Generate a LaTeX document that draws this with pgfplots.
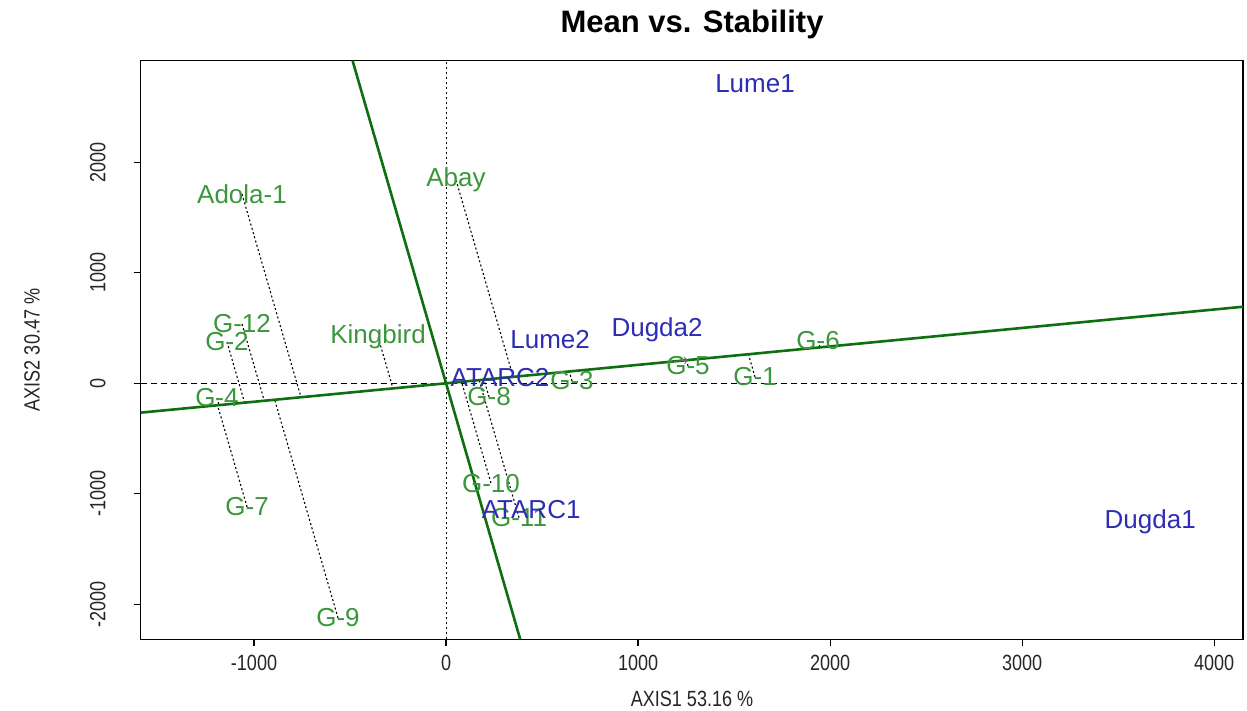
\documentclass[border=0pt]{standalone}
\usepackage{pgfplots}
\pgfplotsset{compat=1.18}
\usepackage{pgfplotstable}
\usepackage{fontspec}
\setmainfont{Liberation Sans}
\usepackage{graphicx}
\definecolor{genoc}{RGB}{60,150,60}
\definecolor{envc}{RGB}{45,45,180}
\definecolor{linec}{RGB}{15,110,15}
\newcommand{\nar}[1]{\scalebox{0.82}[1]{#1}}

\pgfplotstableread{
x y lab
-1062.5 1713 Adola-1
52 1840 Abay
-1062.5 537 G-12
-1140.6 374 G-2
-354 419 Kingbird
1937.5 383 G-6
1260 157 G-5
1609 57 G-1
656 21 G-3
-1193 -133 G-4
224 -124 G-8
234 -903 G-10
-1036 -1120 G-7
380 -1216 G-11
-562.5 -2124 G-9
}\genos

\pgfplotstableread{
x y lab
1609 2709 Lume1
542 392 Lume2
1099 482 Dugda2
281 48 ATARC2
443 -1144 ATARC1
3667 -1255 Dugda1
}\envs

\begin{document}
\begin{tikzpicture}
\useasboundingbox (0,0) rectangle (623.5pt,355.5pt);
\begin{axis}[
  at={(70.35pt,35.85pt)}, anchor=south west,
  scale only axis, width=551.15pt, height=289.3pt,
  xmin=-1590, xmax=4150, ymin=-2317, ymax=2920,
  axis line style={line width=0.6pt},
  xtick={-1000,0,1000,2000,3000,4000},
  xticklabels={\nar{-1000},\nar{0},\nar{1000},\nar{2000},\nar{3000},\nar{4000}},
  ytick={-2000,-1000,0,1000,2000},
  yticklabels={\nar{-2000},\nar{-1000},\nar{0},\nar{1000},\nar{2000}},
  tick align=outside, xtick pos=bottom, ytick pos=left,
  major tick length=3.5pt,
  tick style={line width=0.6pt, black},
  xticklabel style={font=\fontsize{11}{13}\selectfont, text=black!85},
  yticklabel style={font=\fontsize{11}{13}\selectfont, text=black!85, rotate=90, anchor=south},
  yticklabel shift=10.5pt,
  xticklabel shift=1pt,
  nodes near coords style={anchor=center, font=\fontsize{13}{15}\selectfont},
]
% reference lines
\addplot[black, line width=0.4pt, dash pattern=on 1pt off 1.5pt] coordinates {(0,-2317) (0,2920)};
\addplot[black, line width=0.4pt, dash pattern=on 3pt off 2pt] coordinates {(-1590,0) (4150,0)};
% projection lines
\addplot[black, line width=0.55pt, dash pattern=on 1pt off 1.2pt] coordinates {(-1062.5,1713) (-755.3,-126.1)};
\addplot[black, line width=0.55pt, dash pattern=on 1pt off 1.2pt] coordinates {(52,1840) (349.5,58.4)};
\addplot[black, line width=0.55pt, dash pattern=on 1pt off 1.2pt] coordinates {(-1062.5,537) (-946.4,-158.0)};
\addplot[black, line width=0.55pt, dash pattern=on 1pt off 1.2pt] coordinates {(-1140.6,374) (-1048.9,-175.2)};
\addplot[black, line width=0.55pt, dash pattern=on 1pt off 1.2pt] coordinates {(-354,419) (-276.3,-46.1)};
\addplot[black, line width=0.55pt, dash pattern=on 1pt off 1.2pt] coordinates {(1937.5,383) (1947.2,325.2)};
\addplot[black, line width=0.55pt, dash pattern=on 1pt off 1.2pt] coordinates {(1260,157) (1251.3,209.0)};
\addplot[black, line width=0.55pt, dash pattern=on 1pt off 1.2pt] coordinates {(1609,57) (1574.6,263.0)};
\addplot[black, line width=0.55pt, dash pattern=on 1pt off 1.2pt] coordinates {(656,21) (641.6,107.1)};
\addplot[black, line width=0.55pt, dash pattern=on 1pt off 1.2pt] coordinates {(-1193,-133) (-1182.2,-197.4)};
\addplot[black, line width=0.55pt, dash pattern=on 1pt off 1.2pt] coordinates {(224,-124) (197.8,33.0)};
\addplot[black, line width=0.55pt, dash pattern=on 1pt off 1.2pt] coordinates {(234,-903) (80.9,13.5)};
\addplot[black, line width=0.55pt, dash pattern=on 1pt off 1.2pt] coordinates {(-1036,-1120) (-1189.8,-198.7)};
\addplot[black, line width=0.55pt, dash pattern=on 1pt off 1.2pt] coordinates {(380,-1216) (172.1,28.7)};
\addplot[black, line width=0.55pt, dash pattern=on 1pt off 1.2pt] coordinates {(-562.5,-2124) (-892.3,-149.0)};
% ATC axes
\addplot[linec, line width=1.3pt] coordinates {(-1590,-265.5) (4150,693)};
\addplot[linec, line width=1.3pt] coordinates {(-486.7,2920) (386.2,-2317)};
\addplot[black!60, line width=0.5pt, ->] coordinates {(1150,192) (1260,210.4)};
% labels
\addplot[draw=none, mark=none, nodes near coords, point meta=explicit symbolic,
  nodes near coords style={text=genoc}] table[x=x,y=y,meta=lab]{\genos};
\addplot[draw=none, mark=none, nodes near coords, point meta=explicit symbolic,
  nodes near coords style={text=envc}] table[x=x,y=y,meta=lab]{\envs};
\end{axis}
\node[font=\bfseries\fontsize{15.5}{18}\selectfont] at (346pt,343.5pt) {Mean vs. Stability};
\node[font=\fontsize{11}{13}\selectfont, text=black!85] at (346pt,5.8pt) {\nar{AXIS1 53.16 \%}};
\node[font=\fontsize{11}{13}\selectfont, text=black!85, rotate=90] at (16pt,180.5pt) {\nar{AXIS2 30.47 \%}};
\end{tikzpicture}
\end{document}
